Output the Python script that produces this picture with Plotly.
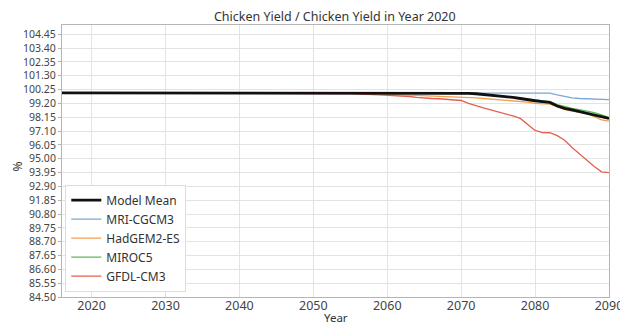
import plotly.graph_objects as go

years = list(range(2016, 2091))

# Yield relative to 2020 (%), per model, 2016-2090
model_mean = [100.0] * 54 + [
    99.98, 99.96, 99.93, 99.88, 99.83, 99.78, 99.72, 99.65, 99.57, 99.47,
    99.40, 99.33, 99.27, 99.00, 98.82, 98.70, 98.56, 98.45, 98.33, 98.18, 98.06,
]
mri_cgcm3 = [100.0] * 66 + [
    99.98, 99.85, 99.72, 99.62, 99.57, 99.55, 99.52, 99.50, 99.49,
]
hadgem2_es = [100.0] * 40 + [
    99.98, 99.96, 99.94, 99.92, 99.90, 99.88, 99.85, 99.83, 99.80, 99.78,
    99.76, 99.75, 99.73, 99.72, 99.70, 99.66, 99.62, 99.57, 99.53, 99.50,
    99.46, 99.42, 99.39, 99.30, 99.20, 99.17, 99.14, 98.95, 98.72, 98.62,
    98.56, 98.45, 98.20, 97.95, 97.85,
]
miroc5 = [100.0] * 55 + [
    99.95, 99.92, 99.88, 99.84, 99.78, 99.72, 99.66, 99.60, 99.52, 99.45,
    99.38, 99.33, 99.10, 98.95, 98.82, 98.72, 98.62, 98.50, 98.32, 98.12,
]
gfdl_cm3 = [100.0] * 29 + [
    99.99, 99.99, 99.98, 99.98, 99.97, 99.97, 99.96, 99.96, 99.95, 99.95,
    99.94, 99.90, 99.88, 99.86, 99.84, 99.82, 99.80, 99.76, 99.72, 99.66,
    99.60, 99.57, 99.55, 99.50, 99.45, 99.42, 99.20, 99.00, 98.85, 98.70,
    98.55, 98.44, 98.25, 98.06, 97.60, 97.15, 96.98, 96.97, 96.75, 96.40,
    95.85, 95.35, 94.85, 94.40, 94.00, 93.95,
]

y_ticks = [84.50 + 1.05 * i for i in range(20)]
x_ticks = list(range(2020, 2091, 10))

series = [
    ("MRI-CGCM3", mri_cgcm3, "#7ba7d6", 1.3, 2),
    ("HadGEM2-ES", hadgem2_es, "#f2a04e", 1.3, 3),
    ("MIROC5", miroc5, "#5cb85c", 1.3, 4),
    ("GFDL-CM3", gfdl_cm3, "#e2604f", 1.3, 5),
    ("Model Mean", model_mean, "#111111", 2.8, 1),
]

fig = go.Figure()
for name, vals, color, width, rank in series:
    fig.add_trace(go.Scatter(
        x=years, y=vals, mode="lines", name=name,
        line=dict(color=color, width=width),
        legendrank=rank,
    ))

axis_common = dict(
    showgrid=True, gridcolor="#e3e3e3", gridwidth=1,
    showline=True, linecolor="#b5b5b5", linewidth=1, mirror=True,
    zeroline=False, automargin=False,
)

fig.update_layout(
    width=620, height=327,
    margin=dict(l=62, r=11, t=25, b=30),
    paper_bgcolor="white", plot_bgcolor="white",
    font=dict(family="Noto Sans, sans-serif", color="#333333"),
    title=dict(
        text="Chicken Yield / Chicken Yield in Year 2020",
        x=0.54, xanchor="center", y=0.95, yanchor="middle",
        font=dict(size=12.5, color="#333333"),
    ),
    xaxis=dict(
        range=[2016, 2090], tickvals=x_ticks,
        tickfont=dict(size=12.5, color="#444444"),
        ticklabeloverflow="allow", ticklabelstandoff=-3,
        **axis_common,
    ),
    yaxis=dict(
        range=[84.5, 105.15], tickvals=y_ticks,
        ticktext=[f"{v:.2f}" for v in y_ticks],
        tickfont=dict(size=10.5, color="#444444"),
        ticks="outside", ticklen=3, tickcolor="#b5b5b5",
        **axis_common,
    ),
    annotations=[
        dict(text="Year", xref="paper", yref="paper", x=0.5, y=-0.077,
             xanchor="center", yanchor="middle", showarrow=False,
             font=dict(size=11.5, color="#333333")),
        dict(text="%", xref="paper", yref="paper", x=-0.082, y=0.48,
             xanchor="center", yanchor="middle", showarrow=False, textangle=-90,
             font=dict(size=12, color="#333333")),
    ],
    showlegend=True,
    legend=dict(
        x=0.006, y=0.02, xanchor="left", yanchor="bottom",
        bgcolor="rgba(255,255,255,0.9)", bordercolor="#dddddd", borderwidth=1,
        font=dict(size=12, color="#333333"),
        tracegroupgap=0, itemwidth=30,
    ),
)

fig.write_html("out.html")
